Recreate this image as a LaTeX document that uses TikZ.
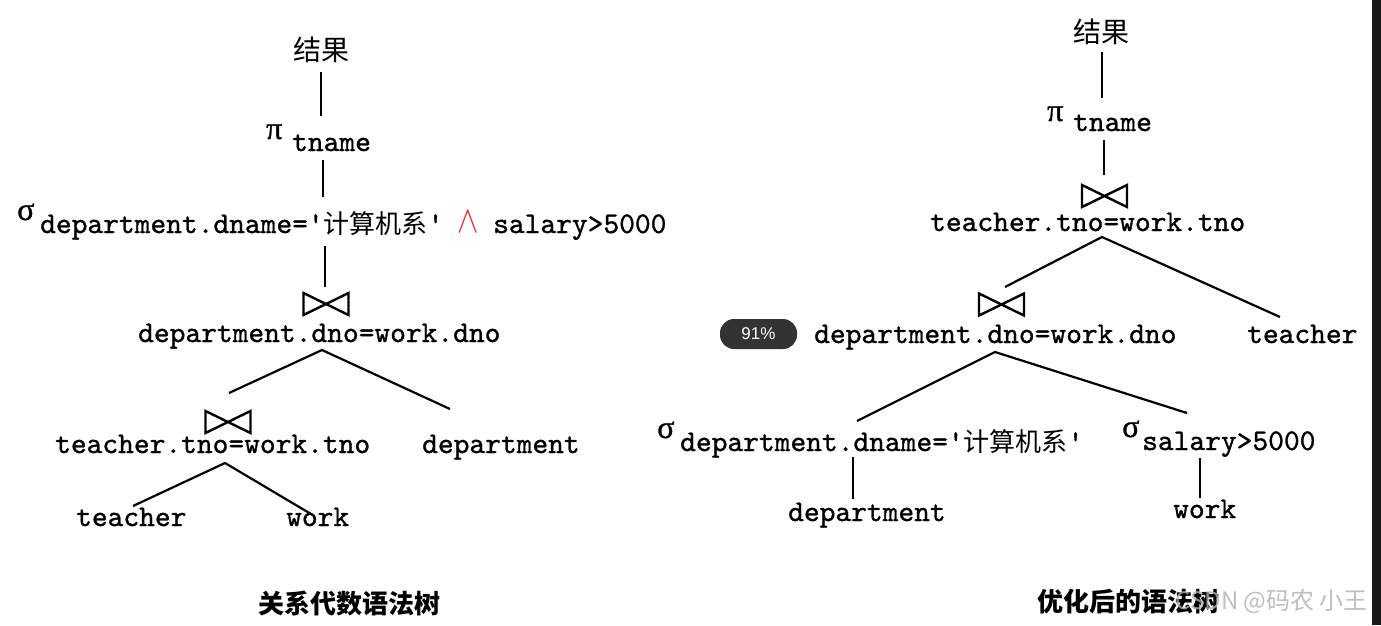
\documentclass[tikz,border=0pt]{standalone}
\usepackage{graphicx}
\usepackage{fontspec}
\newfontfamily\lmm{lmmono10-regular.otf}[FakeBold=1.0]
\newfontfamily\cjk{Noto Sans CJK SC}
\newfontfamily\grk{Liberation Serif}[FakeBold=1.0]
\newfontfamily\lsans{Liberation Sans}
\definecolor{andred}{RGB}{230,40,50}
\definecolor{wmgray}{RGB}{175,175,175}
\begin{document}
\begin{tikzpicture}[x=1pt,y=-1pt,
  txt/.style={inner sep=0pt, anchor=base west, font=\lmm\fontsize{30}{34}\selectfont},
  cjkt/.style={inner sep=0pt, anchor=center, font=\cjk\fontsize{28}{32}\selectfont},
  greek/.style={inner sep=0pt, anchor=base west, font=\grk\fontsize{32}{34}\selectfont},
  capt/.style={inner sep=0pt, anchor=center, font=\cjk\bfseries\fontsize{26}{30}\selectfont},
  edge/.style={line width=2.2pt, line cap=butt},
  bowtie/.pic={\draw[line width=2.4pt] (-22.5,-11) -- (-22.5,11) -- (22.5,-11) -- (22.5,11) -- cycle;}
]
\useasboundingbox (0,0) rectangle (1381,625);
\fill[white] (0,0) rectangle (1381,625);

% ---------------- left tree ----------------
\node[cjkt] (Lres) at (321,50) {结果};
\coordinate (L1a) at (321,72); \coordinate (L1b) at (321,116);
\draw[edge] (L1a) -- (L1b);
\node[greek] (Lpi) at (266,139) {π};
\node[txt] (Lpn) at (292,151) {tname};
\coordinate (L2a) at (323,160); \coordinate (L2b) at (323,197);
\draw[edge] (L2a) -- (L2b);
\node[greek] (Lsg) at (17,220) {σ};
\node[txt] (Lsc) at (40,233) {department.dname=\textquotesingle{\cjk\fontsize{26}{30}\selectfont 计算机系}\textquotesingle};
\node[inner sep=0pt, anchor=base west, text=andred] (Land) at (457,232) {\scalebox{3.2}[3.8]{$\wedge$}};
\node[txt] (Lsal) at (493,233) {salary>5000};
\coordinate (L3a) at (325,246); \coordinate (L3b) at (325,287);
\draw[edge] (L3a) -- (L3b);
\pic at (326,304) {bowtie};
\node[txt] (Lj1) at (138,342) {department.dno=work.dno};
\coordinate (L4) at (322,350); \coordinate (L4l) at (229,393); \coordinate (L4r) at (450,409);
\draw[edge] (L4l) -- (L4) -- (L4r);
\pic at (228,422) {bowtie};
\node[txt] (Lj2) at (55,453) {teacher.tno=work.tno};
\node[txt] (Ldep) at (422,453) {department};
\coordinate (L5) at (225,463); \coordinate (L5l) at (133,506); \coordinate (L5r) at (311,514);
\draw[edge] (L5l) -- (L5) -- (L5r);
\node[txt] (Lt) at (76,526) {teacher};
\node[txt] (Lw) at (286,526) {work};
\node[capt] (Lcap) at (349,604) {关系代数语法树};

% ---------------- right tree ----------------
\node[cjkt] (Rres) at (1101,32) {结果};
\coordinate (R1a) at (1102,52); \coordinate (R1b) at (1102,98);
\draw[edge] (R1a) -- (R1b);
\node[greek] (Rpi) at (1047,121) {π};
\node[txt] (Rpn) at (1073,131) {tname};
\coordinate (R2a) at (1104,140); \coordinate (R2b) at (1104,175);
\draw[edge] (R2a) -- (R2b);
\pic at (1104.5,196) {bowtie};
\node[txt] (Rj1) at (930,231) {teacher.tno=work.tno};
\coordinate (R3) at (1102,237); \coordinate (R3l) at (1005,287); \coordinate (R3r) at (1280,317);
\draw[edge] (R3l) -- (R3) -- (R3r);
\pic at (1001.5,304.5) {bowtie};
\node[txt] (Rj2) at (814,343) {department.dno=work.dno};
\node[txt] (Rt) at (1247,343) {teacher};
\coordinate (R4) at (995,352); \coordinate (R4l) at (857,421); \coordinate (R4r) at (1187,413);
\draw[edge] (R4l) -- (R4) -- (R4r);
\node[greek] (Rsg1) at (657,438) {σ};
\node[txt] (Rsc1) at (680,451) {department.dname=\textquotesingle{\cjk\fontsize{26}{30}\selectfont 计算机系}\textquotesingle};
\node[greek] (Rsg2) at (1122,437) {σ};
\node[txt] (Rsc2) at (1142,450) {salary>5000};
\coordinate (R5a) at (853,457); \coordinate (R5b) at (853,499);
\draw[edge] (R5a) -- (R5b);
\coordinate (R6a) at (1200,458); \coordinate (R6b) at (1200,498);
\draw[edge] (R6a) -- (R6b);
\node[txt] (Rdep) at (788,521) {department};
\node[txt] (Rw) at (1173,518) {work};
\node[capt] (Rcap) at (1128,602) {优化后的语法树};

% ---------------- overlays ----------------
\node[inner sep=0pt, anchor=east, text=wmgray, opacity=0.8, font=\cjk\fontsize{24}{28}\selectfont] (wm) at (1368,601) {CSDN @码农 小王};
\node[fill=black!80, rounded corners=14pt, minimum width=77pt, minimum height=30pt, inner sep=0pt, text=white, font=\lsans\fontsize{17}{20}\selectfont] (badge) at (758.5,334) {91\%};
\fill[black!90] (1372,0) rectangle (1381,625);
\end{tikzpicture}
\end{document}
